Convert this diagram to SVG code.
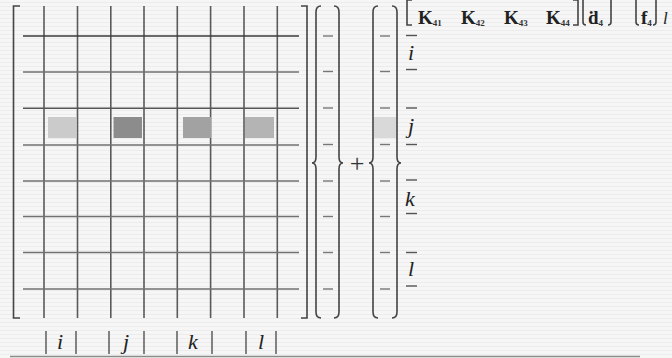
<svg xmlns="http://www.w3.org/2000/svg" width="672" height="358" viewBox="0 0 672 358">
<defs>
<pattern id="scan" width="4" height="4" patternUnits="userSpaceOnUse">
<rect width="4" height="4" fill="#f6f6f6"/>
<rect y="2" width="4" height="1" fill="#ececec"/>
</pattern>
</defs>
<style>
.v{stroke:#5a5a5a;stroke-width:1.6;fill:none}
.h{stroke:#707070;stroke-width:1.6;fill:none}
.br{stroke:#444;stroke-width:1.6;fill:none}
.ds{stroke:#777;stroke-width:1.4}
.lab{font-family:"Liberation Serif",serif;font-style:italic;font-size:22px;fill:#222}
.bar{stroke:#666;stroke-width:1.6}
.K{font-family:"Liberation Serif",serif;font-weight:bold;font-size:19px;fill:#222}
.sub{font-family:"Liberation Serif",serif;font-size:9px;fill:#333}
</style>
<rect width="672" height="358" fill="url(#scan)"/>
<g id="matrix">
<path class="br" d="M20 6 H13.5 V318 H20"/>
<path class="br" d="M301 6 H307 V318 H301"/>
<g id="grid-v">
<line class="v" x1="44" y1="6" x2="44" y2="318"/>
<line class="v" x1="77.5" y1="6" x2="77.5" y2="318"/>
<line class="v" x1="110.8" y1="6" x2="110.8" y2="318"/>
<line class="v" x1="144" y1="6" x2="144" y2="318"/>
<line class="v" x1="177.3" y1="6" x2="177.3" y2="318"/>
<line class="v" x1="210.6" y1="6" x2="210.6" y2="318"/>
<line class="v" x1="244" y1="6" x2="244" y2="318"/>
<line class="v" x1="277.3" y1="6" x2="277.3" y2="318"/>
</g>
<g id="grid-h">
<line class="h" x1="23" y1="36" x2="299" y2="36" style="stroke:#3a3a3a"/>
<line class="h" x1="23" y1="72" x2="299" y2="72"/>
<line class="h" x1="23" y1="108.3" x2="299" y2="108.3" style="stroke:#555"/>
<line class="h" x1="23" y1="145" x2="299" y2="145"/>
<line class="h" x1="23" y1="181" x2="299" y2="181"/>
<line class="h" x1="23" y1="216.5" x2="299" y2="216.5"/>
<line class="h" x1="23" y1="252.5" x2="299" y2="252.5"/>
<line class="h" x1="23" y1="289" x2="299" y2="289"/>
</g>
<rect x="48" y="117" width="28" height="21" fill="#cbcbcb"/>
<rect x="113.5" y="117" width="28.5" height="21" fill="#8c8c8c"/>
<rect x="183" y="117" width="28" height="21" fill="#a2a2a2"/>
<rect x="245" y="117" width="29" height="21" fill="#b4b4b4"/>
</g>
<g id="vec1">
<path class="br" d="M321 6 Q316 6 316 12 V157 Q316 163 312 163 Q316 163 316 169 V312 Q316 318 321 318"/>
<path class="br" d="M334 6 Q339 6 339 12 V157 Q339 163 343 163 Q339 163 339 169 V312 Q339 318 334 318"/>
<g class="ds">
<line x1="323" y1="36" x2="333" y2="36"/>
<line x1="323" y1="71.5" x2="333" y2="71.5"/>
<line x1="323" y1="108" x2="333" y2="108"/>
<line x1="323" y1="144.5" x2="333" y2="144.5"/>
<line x1="323" y1="181" x2="333" y2="181"/>
<line x1="323" y1="216.5" x2="333" y2="216.5"/>
<line x1="323" y1="252.5" x2="333" y2="252.5"/>
<line x1="323" y1="289" x2="333" y2="289"/>
</g>
</g>
<text x="357" y="172" text-anchor="middle" style="font-family:'Liberation Serif',serif;font-size:26px;fill:#333">+</text>
<g id="vec2">
<rect x="373.5" y="117" width="23" height="21" fill="#d9d9d9"/>
<path class="br" d="M378 6 Q373 6 373 12 V157 Q373 163 369 163 Q373 163 373 169 V312 Q373 318 378 318"/>
<path class="br" d="M392 6 Q397 6 397 12 V157 Q397 163 401 163 Q397 163 397 169 V312 Q397 318 392 318"/>
<g class="ds">
<line x1="380" y1="36" x2="390" y2="36"/>
<line x1="380" y1="71.5" x2="390" y2="71.5"/>
<line x1="380" y1="108" x2="390" y2="108"/>
<line x1="380" y1="144.5" x2="390" y2="144.5"/>
<line x1="380" y1="181" x2="390" y2="181"/>
<line x1="380" y1="216.5" x2="390" y2="216.5"/>
<line x1="380" y1="252.5" x2="390" y2="252.5"/>
<line x1="380" y1="289" x2="390" y2="289"/>
</g>
</g>
<g id="rowlabels">
<g class="ds" style="stroke:#555">
<line x1="406" y1="35.5" x2="417" y2="35.5"/>
<line x1="406" y1="69.5" x2="417" y2="69.5"/>
<line x1="406" y1="108" x2="417" y2="108"/>
<line x1="406" y1="144.5" x2="417" y2="144.5"/>
<line x1="406" y1="180" x2="417" y2="180"/>
<line x1="406" y1="213.5" x2="417" y2="213.5"/>
<line x1="406" y1="252.5" x2="417" y2="252.5"/>
<line x1="406" y1="286" x2="417" y2="286"/>
</g>
<text class="lab" x="411" y="60" text-anchor="middle">i</text>
<text class="lab" x="411" y="133" text-anchor="middle">j</text>
<text class="lab" x="410" y="206" text-anchor="middle">k</text>
<text class="lab" x="411" y="276" text-anchor="middle">l</text>
</g>
<g id="collabels">
<line class="bar" x1="46" y1="331" x2="46" y2="354"/>
<line class="bar" x1="76" y1="331" x2="76" y2="354"/>
<text class="lab" x="60" y="349" text-anchor="middle">i</text>
<line class="bar" x1="109" y1="331" x2="109" y2="354"/>
<line class="bar" x1="144" y1="331" x2="144" y2="354"/>
<text class="lab" x="126" y="349" text-anchor="middle">j</text>
<line class="bar" x1="177" y1="331" x2="177" y2="354"/>
<line class="bar" x1="212" y1="331" x2="212" y2="354"/>
<text class="lab" x="193" y="349" text-anchor="middle">k</text>
<line class="bar" x1="246" y1="331" x2="246" y2="354"/>
<line class="bar" x1="276" y1="331" x2="276" y2="354"/>
<text class="lab" x="261" y="349" text-anchor="middle">l</text>
</g>
<line x1="10" y1="356.5" x2="640" y2="356.5" stroke="#8a8a8a" stroke-width="1.6"/>
<g id="toprow">
<path class="br" d="M412 0 H407 V25 H412"/>
<text class="K" x="418" y="24">K<tspan class="sub" dy="2">41</tspan></text>
<text class="K" x="461" y="24">K<tspan class="sub" dy="2">42</tspan></text>
<text class="K" x="504" y="24">K<tspan class="sub" dy="2">43</tspan></text>
<text class="K" x="546" y="24">K<tspan class="sub" dy="2">44</tspan></text>
<path class="br" d="M573 0 H578 V25 H573"/>
<path class="br" d="M583 0 V22 Q583 25 586 25"/>
<text class="K" x="588" y="24">ḋ<tspan class="sub" dy="2">4</tspan></text>
<path class="br" d="M611 0 V22 Q611 25 608 25"/>
<path class="br" d="M636 0 V22 Q636 25 639 25"/>
<text class="K" x="641" y="24">f<tspan class="sub" dy="2">4</tspan></text>
<path class="br" d="M656 0 V22 Q656 25 653 25"/>
<text class="lab" x="663" y="24" style="font-size:17px">l</text>
</g>
</svg>
